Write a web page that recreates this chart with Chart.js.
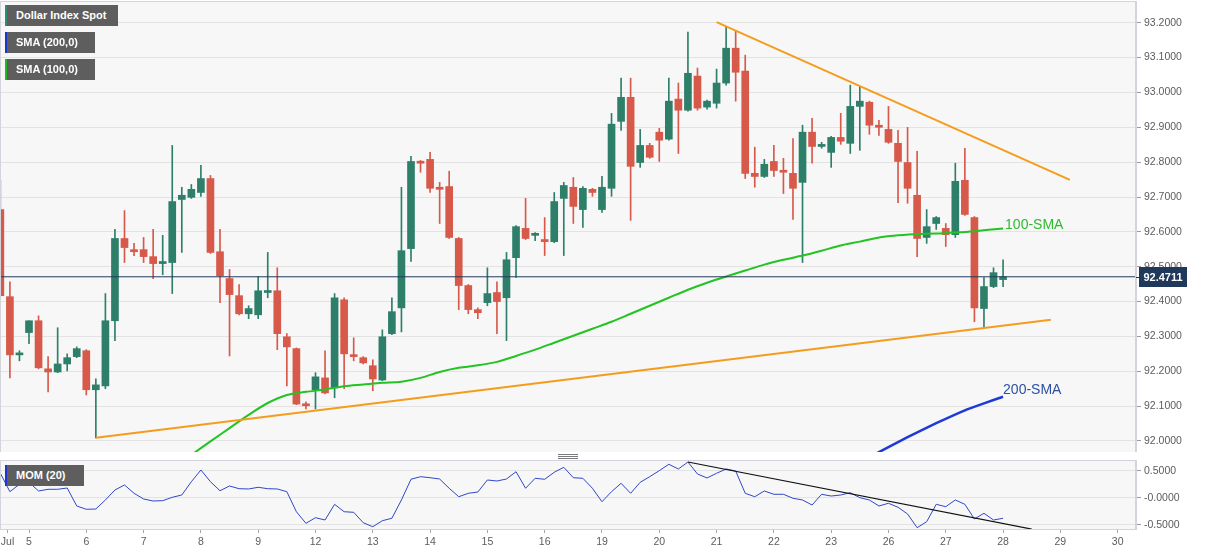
<!DOCTYPE html>
<html><head><meta charset="utf-8">
<script src="https://cdn.jsdelivr.net/npm/chart.js@4.4.0/dist/chart.umd.min.js"></script>
<style>
html,body{margin:0;padding:0;background:#fff;width:1207px;height:555px;overflow:hidden;font-family:"Liberation Sans",Arial,sans-serif;}
#wrap{position:relative;width:1207px;height:555px;}
canvas{position:absolute;left:0;}
#c1{top:0;width:1207px;height:452px;}
#c2{top:452px;width:1207px;height:103px;}
.tag{position:absolute;left:5px;height:21px;line-height:21px;background:#5e5e5e;color:#fff;font-weight:bold;font-size:11px;padding-left:9px;box-sizing:border-box;border-left:2px solid;white-space:nowrap;}
.handle{position:absolute;left:558px;width:20px;height:1px;background:#7a7a7a;}
</style></head>
<body><div id="wrap">
<canvas id="c1" width="1207" height="452"></canvas>
<canvas id="c2" width="1207" height="103"></canvas>
<div class="tag" style="top:5px;width:113px;border-color:#2f8a76">Dollar Index Spot</div>
<div class="tag" style="top:32px;width:90px;border-color:#1d35c9">SMA (200,0)</div>
<div class="tag" style="top:59px;width:90px;border-color:#22b822">SMA (100,0)</div>
<div class="tag" style="top:465px;width:79px;border-color:#1d35c9">MOM (20)</div>
<div class="handle" style="top:454px"></div>
<div class="handle" style="top:456px"></div>
<div class="handle" style="top:458px"></div>
</div>
<script>
// ---- data (4-hour candles, index 0 = Jul 2 12:00) ----
const opens = [92.664,92.414,92.247,92.311,92.345,92.207,92.198,92.221,92.242,92.259,
92.147,92.158,92.345,92.581,92.549,92.549,92.529,92.509,92.512,92.693,
92.699,92.713,92.753,92.543,92.466,92.417,92.365,92.362,92.426,92.431,
92.299,92.265,92.106,92.147,92.181,92.152,92.405,92.247,92.239,92.216,
92.175,92.308,92.382,92.552,92.802,92.808,92.728,92.730,92.581,92.446,
92.377,92.397,92.426,92.411,92.526,92.610,92.590,92.578,92.572,92.696,
92.728,92.664,92.722,92.664,92.725,92.917,92.986,92.799,92.848,92.886,
92.866,92.981,92.949,93.047,92.958,92.969,93.027,93.127,93.061,92.768,
92.759,92.802,92.776,92.768,92.742,92.886,92.845,92.828,92.871,92.854,
92.960,92.972,92.906,92.894,92.854,92.799,92.705,92.584,92.624,92.610,
92.592,92.748,92.641,92.380,92.443,92.463];
const highs = [92.748,92.457,92.259,92.345,92.359,92.242,92.325,92.250,92.270,92.262,
92.178,92.423,92.607,92.661,92.567,92.584,92.607,92.590,92.848,92.728,
92.736,92.791,92.762,92.607,92.492,92.449,92.388,92.472,92.541,92.497,
92.308,92.267,92.112,92.196,92.259,92.423,92.411,92.296,92.242,92.233,
92.319,92.411,92.728,92.817,92.805,92.828,92.742,92.774,92.584,92.449,
92.382,92.497,92.457,92.541,92.618,92.696,92.598,92.641,92.713,92.742,
92.756,92.730,92.725,92.759,92.940,93.041,93.041,92.894,92.854,92.897,
93.041,93.027,93.173,93.070,92.978,93.067,93.190,93.176,93.107,92.843,
92.808,92.848,92.811,92.868,92.906,92.926,92.857,92.874,92.940,93.021,
93.015,92.975,92.920,92.960,92.891,92.900,92.831,92.664,92.644,92.624,
92.797,92.840,92.644,92.469,92.497,92.520];
const lows = [92.415,92.181,92.230,92.279,92.207,92.141,92.196,92.201,92.239,92.132,
92.009,92.150,92.288,92.512,92.532,92.512,92.466,92.477,92.423,92.541,
92.696,92.702,92.538,92.397,92.244,92.362,92.351,92.351,92.411,92.262,
92.158,92.104,92.092,92.092,92.135,92.124,92.150,92.230,92.221,92.144,
92.173,92.305,92.313,92.515,92.771,92.713,92.624,92.581,92.377,92.365,
92.351,92.388,92.308,92.288,92.469,92.578,92.575,92.532,92.569,92.532,
92.624,92.613,92.702,92.656,92.702,92.891,92.633,92.785,92.811,92.802,
92.863,92.825,92.946,92.949,92.952,92.955,93.021,92.975,92.753,92.728,
92.756,92.759,92.710,92.636,92.512,92.797,92.840,92.785,92.851,92.825,
92.834,92.880,92.877,92.854,92.684,92.682,92.529,92.567,92.607,92.558,
92.584,92.647,92.342,92.322,92.440,92.443];
const closes = [92.417,92.247,92.250,92.345,92.210,92.198,92.221,92.239,92.265,92.147,
92.161,92.345,92.581,92.555,92.543,92.529,92.509,92.515,92.687,92.705,
92.722,92.753,92.541,92.474,92.420,92.365,92.380,92.431,92.431,92.308,
92.270,92.106,92.101,92.184,92.138,92.411,92.250,92.242,92.224,92.178,
92.299,92.371,92.546,92.802,92.797,92.725,92.722,92.584,92.446,92.377,
92.368,92.423,92.400,92.520,92.615,92.581,92.595,92.572,92.687,92.733,
92.673,92.725,92.713,92.728,92.909,92.986,92.788,92.848,92.814,92.863,
92.975,92.949,93.055,92.955,92.975,93.027,93.127,93.058,92.768,92.759,
92.794,92.776,92.771,92.725,92.886,92.845,92.851,92.871,92.860,92.960,
92.975,92.906,92.900,92.857,92.802,92.725,92.581,92.615,92.641,92.592,
92.745,92.650,92.382,92.443,92.483,92.4711];
const lastPrice = 92.4711;

const sma100Idx = [20,22,24,26,28,30,32,34,36,38,40,42,44,46,48,50,52,54,56,58,60,62,64,66,68,70,72,74,76,78,80,82,84,86,88,90,92,94,96,98,100,102,105];
const sma100Val = [91.960,91.999,92.037,92.075,92.109,92.132,92.141,92.148,92.157,92.162,92.167,92.170,92.181,92.198,92.210,92.217,92.227,92.244,92.262,92.282,92.302,92.322,92.342,92.365,92.388,92.411,92.434,92.454,92.472,92.489,92.506,92.520,92.532,92.546,92.561,92.572,92.584,92.590,92.594,92.595,92.598,92.602,92.610];
const sma200Idx = [91,92,95,98,101,103,105];
const sma200Val = [91.953,91.968,92.011,92.051,92.088,92.108,92.127];

const supportIdx = [10,110];
const supportVal = [92.009,92.348];
const resistIdx = [75,112];
const resistVal = [93.202,92.749];

const mom = [0.451,0.111,0.247,0.284,0.124,0.155,0.155,0.179,-0.153,-0.214,
-0.209,-0.042,0.142,0.235,0.081,-0.024,-0.061,-0.055,0.007,0.050,
0.295,0.512,0.295,0.129,0.216,0.166,0.161,0.192,0.166,0.161,
0.111,-0.259,-0.473,-0.369,-0.412,-0.122,-0.259,-0.270,-0.462,-0.536,
-0.425,-0.380,-0.042,0.340,0.388,0.369,0.345,0.174,0.018,0.081,
0.105,0.327,0.308,0.345,0.480,0.174,0.358,0.340,0.469,0.561,
0.369,0.358,0.174,-0.074,0.111,0.266,0.081,0.284,0.388,0.499,
0.617,0.530,0.659,0.438,0.364,0.451,0.530,0.493,0.081,0.018,
0.124,0.063,0.063,-0.011,-0.042,-0.135,0.063,0.031,0.050,0.092,
0.000,-0.042,-0.153,-0.103,-0.177,-0.301,-0.554,-0.443,-0.122,-0.166,
-0.042,-0.122,-0.393,-0.288,-0.412,-0.380];
const momTrendIdx = [72,108];
const momTrendVal = [0.659,-0.58];

const dayTickIdx = [0.75,3,9,15,21,27,33,39,45,51,57,63,69,75,81,87,93,99,105,111,117];
const dayTickLabels = ['Jul','5','6','7','8','9','12','13','14','15','16','19','20','21','22','23','26','27','28','29','30'];
const priceTicks = [92.0,92.1,92.2,92.3,92.4,92.5,92.6,92.7,92.8,92.9,93.0,93.1,93.2];
const momTicks = [-0.5,0,0.5];
const momTickLabels = ['-0.5000','-0.0000','0.5000'];

// ---- layout/style ----
const X_MIN = -0.037, X_MAX = 118.92;
const P_MIN = 91.9684, P_MAX = 93.2624;
const M_MIN = -0.578, M_MAX = 0.696;
const GREEN = '#2e7f6a', RED = '#d7594a';
const FONT = "'Liberation Sans', Arial, sans-serif";
Chart.defaults.font.family = FONT;

const frame = {
  id: 'frame',
  beforeDraw(chart) {
    const {ctx, chartArea: a} = chart;
    ctx.save();
    ctx.fillStyle = '#ffffff';
    ctx.fillRect(0, 0, chart.width, chart.height);
    ctx.fillStyle = '#f7f7f7';
    ctx.fillRect(a.left, a.top, a.right - a.left, a.bottom - a.top);
    ctx.restore();
  },
  afterDraw(chart) {
    const {ctx, chartArea: a} = chart;
    ctx.save();
    ctx.strokeStyle = '#d3d3db';
    ctx.lineWidth = 1;
    ctx.strokeRect(a.left + 0.5, a.top + 0.5, a.right - a.left - 1, a.bottom - a.top);
    ctx.restore();
  }
};

const priceLabels = {
  id: 'priceLabels',
  afterDraw(chart) {
    const {ctx, chartArea: a, scales: {x, y}} = chart;
    ctx.save();
    const py = Math.round(y.getPixelForValue(lastPrice));
    ctx.fillStyle = '#20395a';
    ctx.fillRect(a.right, py, 4, 1);
    ctx.fillRect(a.right + 3, py - 10, 48, 20);
    ctx.fillStyle = '#ffffff';
    ctx.font = 'bold 11px ' + FONT;
    ctx.textAlign = 'center';
    ctx.textBaseline = 'middle';
    ctx.fillText(lastPrice.toFixed(4), a.right + 27, py + 0.5);
    ctx.font = '14px ' + FONT;
    ctx.textAlign = 'left';
    ctx.textBaseline = 'alphabetic';
    const n1 = sma100Idx.length - 1;
    ctx.fillStyle = '#2fba2f';
    ctx.fillText('100-SMA', x.getPixelForValue(sma100Idx[n1]) + 2, y.getPixelForValue(sma100Val[n1]) + 1);
    const n2 = sma200Idx.length - 1;
    ctx.fillStyle = '#2c4fa6';
    ctx.fillText('200-SMA', x.getPixelForValue(sma200Idx[n2]), y.getPixelForValue(sma200Val[n2]) - 3);
    ctx.restore();
  }
};

const idx = opens.map((_, i) => i);
const candleColors = idx.map(i => closes[i] >= opens[i] ? GREEN : RED);
const pts = (xs, ys) => xs.map((v, k) => ({x: v, y: ys[k]}));

new Chart(document.getElementById('c1'), {
  data: {
    datasets: [
      {type: 'line', data: [{x: X_MIN, y: lastPrice}, {x: X_MAX, y: lastPrice}], borderColor: '#20395a', borderWidth: 1, pointRadius: 0, order: 0, clip: 0},
      {type: 'line', data: pts(resistIdx, resistVal), borderColor: '#f59c1c', borderWidth: 2, pointRadius: 0, order: 1, clip: 0},
      {type: 'line', data: pts(supportIdx, supportVal), borderColor: '#f59c1c', borderWidth: 2, pointRadius: 0, order: 1, clip: 0},
      {type: 'line', data: pts(sma100Idx, sma100Val), borderColor: '#22c322', borderWidth: 2, pointRadius: 0, tension: 0.3, order: 2, clip: 0},
      {type: 'line', data: pts(sma200Idx, sma200Val), borderColor: '#1f3ad6', borderWidth: 2.5, pointRadius: 0, tension: 0.15, order: 2, clip: 0},
      {type: 'bar', data: idx.map(i => ({x: i, y: [opens[i], closes[i]]})), backgroundColor: candleColors, barThickness: 7, minBarLength: 2, grouped: false, order: 5},
      {type: 'bar', data: idx.map(i => ({x: i, y: [lows[i], highs[i]]})), backgroundColor: candleColors, barThickness: 1, grouped: false, order: 6}
    ]
  },
  options: {
    responsive: false, animation: false, events: [],
    layout: {padding: {top: 1, left: 0, right: 0, bottom: 0}},
    plugins: {legend: {display: false}, tooltip: {enabled: false}},
    scales: {
      x: {type: 'linear', min: X_MIN, max: X_MAX, offset: false, display: false, grid: {offset: false}},
      y: {
        position: 'right', min: P_MIN, max: P_MAX,
        afterBuildTicks: s => { s.ticks = priceTicks.map(v => ({value: v})); },
        afterFit: s => { s.width = 71; s.paddingTop = 0; s.paddingBottom = 0; },
        ticks: {callback: v => Number(v).toFixed(4), color: '#5c5c5c', font: {size: 10.5}, padding: 3},
        grid: {color: '#e3e3e3', tickColor: '#9a9a9a', tickLength: 5},
        border: {color: '#d3d3db'}
      }
    }
  },
  plugins: [frame, priceLabels]
});

new Chart(document.getElementById('c2'), {
  data: {
    datasets: [
      {type: 'line', data: pts(momTrendIdx, momTrendVal), borderColor: '#111111', borderWidth: 1.2, pointRadius: 0, clip: 0, order: 1},
      {type: 'line', data: mom.map((v, i) => ({x: i, y: v})), borderColor: '#3047c8', borderWidth: 1, pointRadius: 0, clip: 0, order: 2}
    ]
  },
  options: {
    responsive: false, animation: false, events: [],
    layout: {padding: {top: 8, left: 0, right: 0, bottom: 0}},
    plugins: {legend: {display: false}, tooltip: {enabled: false}},
    scales: {
      x: {
        type: 'linear', min: X_MIN, max: X_MAX, offset: false,
        afterBuildTicks: s => { s.ticks = dayTickIdx.map(v => ({value: v})); },
        afterFit: s => { s.height = 26; s.paddingLeft = 0; s.paddingRight = 0; },
        ticks: {autoSkip: false, maxRotation: 0, callback: (v, i) => dayTickLabels[i], color: '#5c5c5c', font: {size: 10.5}, padding: 3},
        grid: {drawOnChartArea: false, tickLength: 4, tickColor: '#a5a5a5', offset: false},
        border: {color: '#c9c9d1'}
      },
      y: {
        position: 'right', min: M_MIN, max: M_MAX,
        afterBuildTicks: s => { s.ticks = momTicks.map(v => ({value: v})); },
        afterFit: s => { s.width = 71; s.paddingTop = 0; s.paddingBottom = 0; },
        ticks: {callback: (v, i) => momTickLabels[i], color: '#5c5c5c', font: {size: 10.5}, padding: 3},
        grid: {color: '#e3e3e3', tickColor: '#9a9a9a', tickLength: 5},
        border: {color: '#d3d3db'}
      }
    }
  },
  plugins: [frame]
});
</script>
</body></html>
